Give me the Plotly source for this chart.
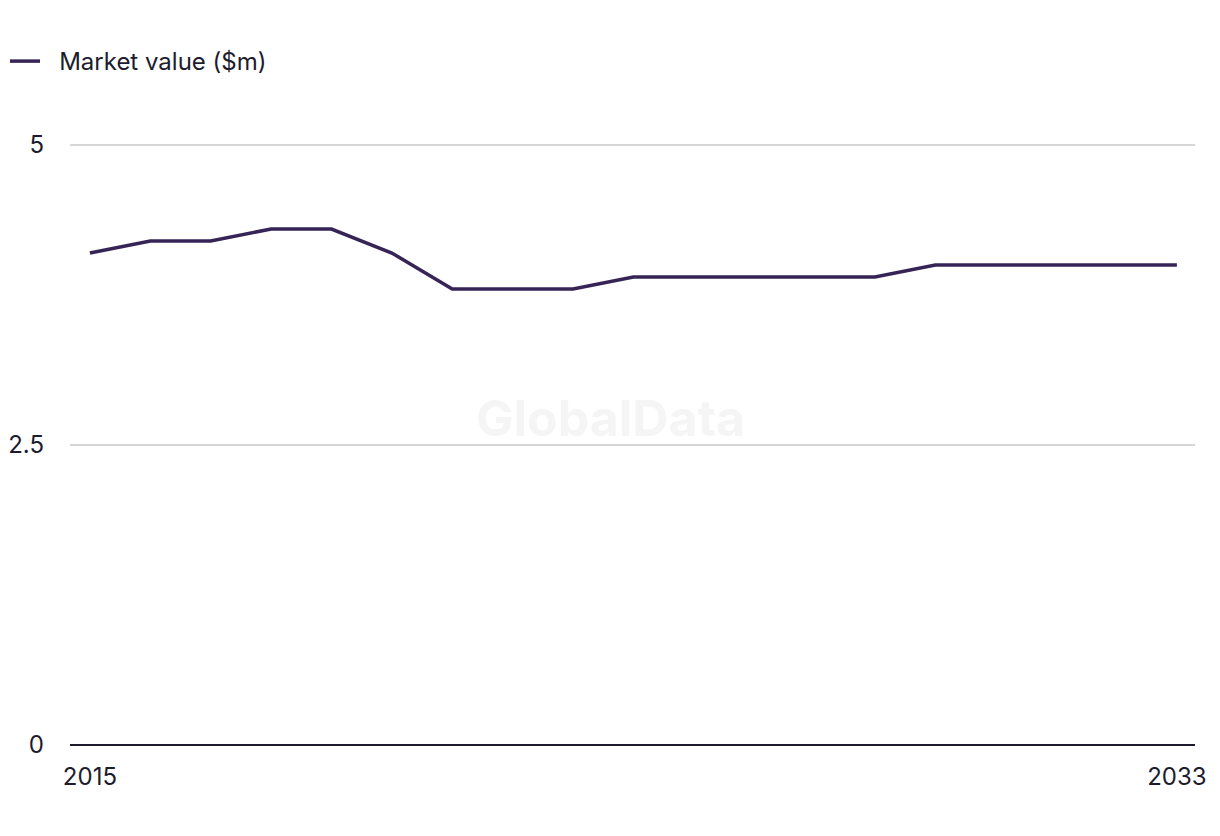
import plotly.graph_objects as go

years = list(range(2015, 2034))
market_value = [4.1, 4.2, 4.2, 4.3, 4.3, 4.1, 3.8, 3.8, 3.8, 3.9, 3.9, 3.9, 3.9, 3.9, 4.0, 4.0, 4.0, 4.0, 4.0]
series_name = "\u2002\u200aMarket value ($m)"
y_ticks = [0, 2.5, 5]
y_ticktext = ["0", "2.5", "5"]
x_ticks = [2015, 2033]

line_color = "#362456"
text_color = "#1c1c2e"
font_family = "Inter, Roboto, Arial, sans-serif"

fig = go.Figure()
fig.add_trace(go.Scatter(
    x=years, y=market_value, mode="lines", name=series_name,
    line=dict(color=line_color, width=3.5),
    showlegend=True,
))

fig.update_layout(
    width=1220, height=836,
    margin=dict(l=70, r=25, t=139, b=91, autoexpand=False),
    paper_bgcolor="white", plot_bgcolor="white",
    font=dict(family=font_family, size=24, color=text_color),
    showlegend=True,
    legend=dict(
        orientation="h", xref="container", yref="container",
        x=5/1220, y=1 - 39/836, xanchor="left", yanchor="top",
        font=dict(size=24, color=text_color),
        bgcolor="rgba(0,0,0,0)",
    ),
    xaxis=dict(
        range=[2014.67, 2033.3], tickmode="array", tickvals=x_ticks,
        ticktext=[str(v) for v in x_ticks],
        showgrid=False, zeroline=False, showline=False,
        ticks="", ticklabelstandoff=15, automargin=False,
        tickfont=dict(size=24, color=text_color),
        fixedrange=True,
    ),
    yaxis=dict(
        range=[0, 5.05], tickmode="array", tickvals=y_ticks, ticktext=y_ticktext,
        showgrid=True, gridcolor="#d6d6d6", gridwidth=1.5,
        zeroline=True, zerolinecolor="#1c1c2e", zerolinewidth=2,
        showline=False, ticks="", ticklabelstandoff=25, automargin=False,
        tickfont=dict(size=24, color=text_color),
        fixedrange=True,
    ),
    annotations=[dict(
        text="<b>GlobalData</b>", x=(610 - 70) / 1125, y=(745 - 418) / 606,
        xref="paper", yref="paper",
        showarrow=False, font=dict(size=50, color="#f5f5f5", family="Inter, Arial, sans-serif"),
        xanchor="center", yanchor="middle",
    )],
)

fig.write_html("out.html")
